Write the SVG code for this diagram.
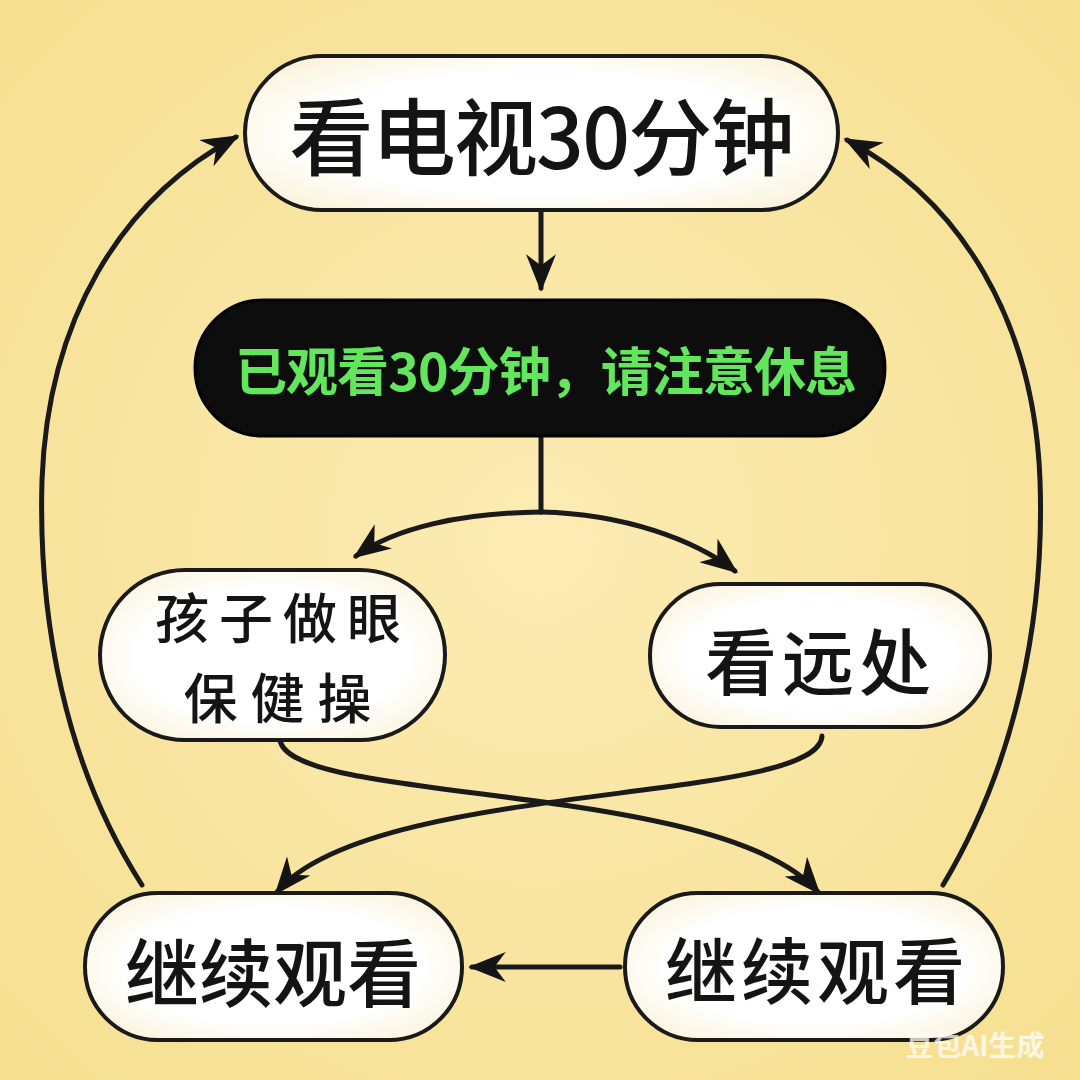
<svg xmlns="http://www.w3.org/2000/svg" width="1080" height="1080" viewBox="0 0 1080 1080">
<defs>
<radialGradient id="bg" cx="50%" cy="50%" r="70%">
<stop offset="0" stop-color="#fcecb4"/>
<stop offset="1" stop-color="#f6df90"/>
</radialGradient>
<radialGradient id="nodefill" cx="50%" cy="50%" r="60%">
<stop offset="0.65" stop-color="#ffffff"/>
<stop offset="1" stop-color="#fbf4df"/>
</radialGradient>
<marker id="ah" viewBox="0 0 20 16" refX="18" refY="8" markerWidth="38" markerHeight="30" markerUnits="userSpaceOnUse" orient="auto">
<path d="M0,0 L20,8 L0,16 L6,8 Z" fill="#141414"/>
</marker>
<style>
.node{fill:url(#nodefill);stroke:#1a1a1a;stroke-width:4}
.lbl{font-family:"Noto Sans CJK SC","Noto Sans",sans-serif;font-weight:500;fill:#141414;text-anchor:middle;dominant-baseline:central}
.con{fill:none;stroke:#1a1a1a;stroke-width:5;stroke-linecap:round}
</style>
</defs>
<rect width="1080" height="1080" fill="url(#bg)"/>

<g id="connectors">
<path class="con" d="M541,212 L541,288" marker-end="url(#ah)"/>
<path class="con" d="M541,437 L541,512"/>
<path class="con" d="M541,512 C460,513 395,528 356,556" marker-end="url(#ah)"/>
<path class="con" d="M541,512 C625,514 695,540 735,571" marker-end="url(#ah)"/>
<path class="con" d="M280,740 C290,805 720,780 818,892" marker-end="url(#ah)"/>
<path class="con" d="M822,736 C818,805 370,780 277,892" marker-end="url(#ah)"/>
<path class="con" d="M620,967 L472,967" marker-end="url(#ah)"/>
<path class="con" d="M142,885 C65,765 38,620 42,480 C48,320 120,200 236,137" marker-end="url(#ah)"/>
<path class="con" d="M943,885 C1015,765 1045,620 1040,480 C1034,320 960,200 847,140" marker-end="url(#ah)"/>
</g>

<g id="n-top">
<rect class="node" x="245" y="56" width="593" height="154" rx="77"/>
<text class="lbl" x="542" y="132" font-size="84" textLength="505" lengthAdjust="spacing">看电视30分钟</text>
</g>

<g id="n-alert">
<rect x="195" y="300" width="690" height="136" rx="68" fill="#0d0d0d" stroke="#000" stroke-width="3"/>
<text class="lbl" x="546" y="368" font-size="52" textLength="622" lengthAdjust="spacing" style="fill:#62e65c;font-weight:700">已观看30分钟，请注意休息</text>
</g>

<g id="n-exercise">
<rect class="node" x="100" y="570" width="345" height="170" rx="85"/>
<text class="lbl" x="283" y="615" font-size="54" letter-spacing="10">孩子做眼</text>
<text class="lbl" x="284" y="695" font-size="54" letter-spacing="13">保健操</text>
</g>

<g id="n-far">
<rect class="node" x="650" y="584" width="340" height="143" rx="71"/>
<text class="lbl" x="818" y="657" font-size="72" textLength="226" lengthAdjust="spacing">看远处</text>
</g>

<g id="n-cont-left">
<rect class="node" x="85" y="893" width="377" height="147" rx="73"/>
<text class="lbl" x="273" y="968" font-size="74" textLength="296" lengthAdjust="spacing">继续观看</text>
</g>

<g id="n-cont-right">
<rect class="node" x="625" y="893" width="378" height="147" rx="73"/>
<text class="lbl" x="815" y="966" font-size="72" textLength="300" lengthAdjust="spacing">继续观看</text>
</g>

<text x="975" y="1044" font-family="'Noto Sans CJK SC','Noto Sans',sans-serif" font-weight="700" font-size="28" fill="#ffffff" fill-opacity="0.75" text-anchor="middle" dominant-baseline="central">豆包AI生成</text>
</svg>
